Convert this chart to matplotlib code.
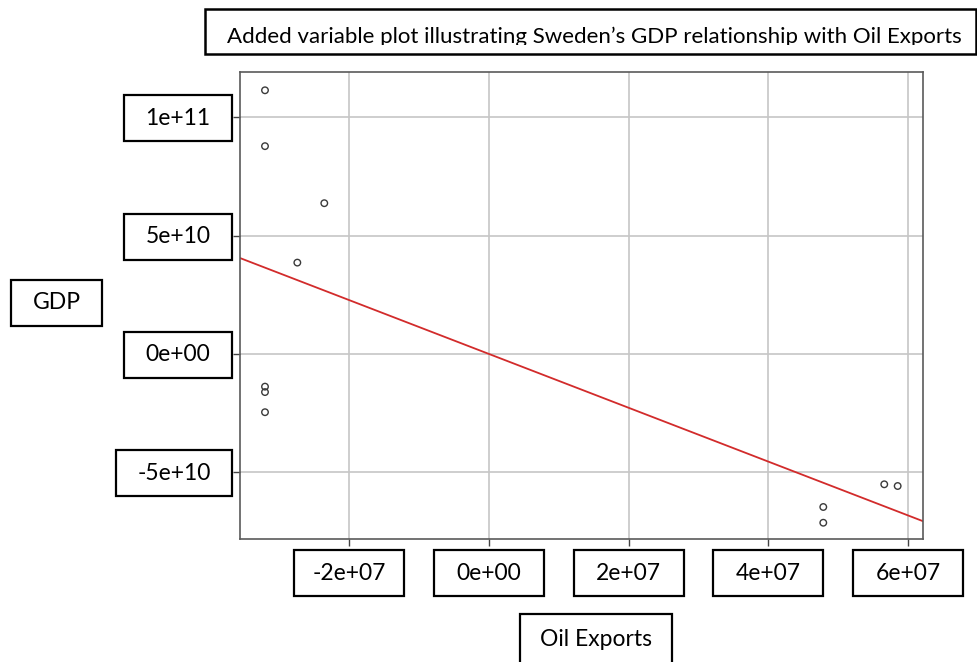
import matplotlib
matplotlib.use("Agg")
import matplotlib.pyplot as plt
from matplotlib.patches import Rectangle

# partial residuals from the added variable regression
oil_resid = [-3.207e7, -3.207e7, -2.358e7, -2.744e7, -3.207e7, -3.207e7, -3.207e7,
             4.786e7, 4.786e7, 5.659e7, 5.851e7]
gdp_resid = [1.114e11, 8.78e10, 6.37e10, 3.86e10, -1.38e10, -1.61e10, -2.46e10,
             -6.465e10, -7.13e10, -5.506e10, -5.578e10]
slope = -1137.0

xticks = [-2e7, 0, 2e7, 4e7, 6e7]
xtick_labels = ["-2e+07", "0e+00", "2e+07", "4e+07", "6e+07"]
yticks = [1e11, 5e10, 0, -5e10]
ytick_labels = ["1e+11", "5e+10", "0e+00", "-5e+10"]

title = "Added variable plot illustrating Sweden\u2019s GDP relationship with Oil Exports"
xlabel = "Oil Exports"
ylabel = "GDP"

W, H = 977, 662
plt.rcParams['font.family'] = ['Lato', 'DejaVu Sans']

fig = plt.figure(figsize=(W / 100, H / 100), dpi=100)
ax = fig.add_axes([239.5 / W, (H - 539) / H, (923.3 - 239.5) / W, (539 - 72.3) / H])

ax.scatter(oil_resid, gdp_resid, s=22, facecolors='none', edgecolors='#3a3a3a',
           linewidths=1.0, zorder=3)
ax.axline((0, 0), slope=slope, color='#d22b2b', lw=1.3, zorder=2)

ax.set_xlim(-3.572e7, 6.218e7)
ax.set_ylim(-7.817e10, 1.190e11)
ax.set_xticks(xticks)
ax.set_yticks(yticks)
ax.grid(True, color='#c6c6c6', lw=1.2)
ax.set_axisbelow(True)
ax.tick_params(labelbottom=False, labelleft=False, length=5, width=1, color='#444444')
for sp in ax.spines.values():
    sp.set_color('#5a5a5a')
    sp.set_linewidth(1.2)


def boxed(cx, cy, text, w, h, size=16.5, lw=1.6):
    # cx, cy are pixel positions measured from the top-left corner
    rect = Rectangle(((cx - w / 2) / W, (H - cy - h / 2) / H), w / W, h / H,
                     transform=fig.transFigure, fill=False, ec='black', lw=lw)
    fig.patches.append(rect)
    return fig.text(cx / W, 1 - cy / H, text, ha='center', va='center', fontsize=size,
                    color='black')


fig.canvas.draw()
for val, lab in zip(xticks, xtick_labels):
    px = ax.transData.transform((val, 0))[0]
    boxed(px, 573, lab, 110, 46)
for val, lab in zip(yticks, ytick_labels):
    py = H - ax.transData.transform((0, val))[1]
    w = 116 if lab.startswith('-') else 108
    boxed(232 - w / 2, py + 1, lab, w, 46)

boxed(56.5, 302.5, ylabel, 91, 46)
boxed(596, 639, xlabel, 152, 50)

# title sits in a box whose lower part hides the descenders
t = boxed(590, 31.5, title, 771, 44.5, size=16, lw=1.8)
t.set_va('baseline')
t.set_position((594 / W, 1 - 43 / H))
clip = Rectangle((204 / W, (H - 45) / H), 772 / W, 36 / H, transform=fig.transFigure)
t.set_clip_path(clip)
t.set_clip_on(True)

fig.savefig("out.png", dpi=100)
